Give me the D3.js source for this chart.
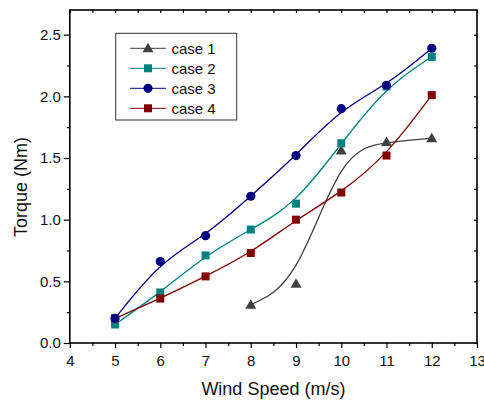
<!DOCTYPE html>
<html>
<head>
<meta charset="utf-8">
<script src="https://cdn.jsdelivr.net/npm/d3@7"></script>
<style>
    body { margin: 0; background: #fff; }
    svg { display: block; font-family: "Liberation Sans", Arial, sans-serif; }
    .axis path, .axis line { stroke: #000; }
    .axis text { fill: #111; font-size: 15px; font-family: "Liberation Sans", Arial, sans-serif; }
</style>
</head>
<body>
<svg id="chart" width="484" height="400"></svg>
<script>
// wind speed (m/s)
const speeds = [5, 6, 7, 8, 9, 10, 11, 12];
const case1Speeds = [8, 9, 10, 11, 12];

// torque (Nm)
const case1 = [0.31, 0.48, 1.56, 1.63, 1.66];
const case2 = [0.15, 0.41, 0.71, 0.92, 1.13, 1.62, 2.08, 2.32];
const case3 = [0.20, 0.66, 0.87, 1.19, 1.52, 1.90, 2.09, 2.39];
const case4 = [0.20, 0.36, 0.54, 0.73, 1.00, 1.22, 1.52, 2.01];

const xTicks = [4, 5, 6, 7, 8, 9, 10, 11, 12, 13];
const yTicks = [0.0, 0.5, 1.0, 1.5, 2.0, 2.5];

const series = [
    { name: "case 1", x: case1Speeds, y: case1, color: "#404040", marker: "triangle" },
    { name: "case 2", x: speeds, y: case2, color: "#008080", marker: "square" },
    { name: "case 3", x: speeds, y: case3, color: "#000080", marker: "circle" },
    { name: "case 4", x: speeds, y: case4, color: "#800000", marker: "square" }
];

const m = { left: 69.8, right: 477, top: 10, bottom: 343 };

const svg = d3.select("#chart");

const x = d3.scaleLinear().domain([4, 13]).range([m.left, m.right]);
const y = d3.scaleLinear().domain([0, 2.7]).range([m.bottom, m.top]);

const xMinor = d3.range(4.5, 13, 1);
const yMinor = d3.range(0.25, 2.7, 0.5);

// minor ticks
svg.append("g").attr("class", "axis").attr("transform", `translate(0,${m.bottom})`)
    .call(d3.axisBottom(x).tickValues(xMinor).tickSize(3).tickFormat(""))
    .call(g => g.select(".domain").remove());
svg.append("g").attr("class", "axis").attr("transform", `translate(${m.left},0)`)
    .call(d3.axisLeft(y).tickValues(yMinor).tickSize(3).tickFormat(""))
    .call(g => g.select(".domain").remove());

// top / right inward ticks
svg.append("g").attr("class", "axis").attr("transform", `translate(0,${m.top})`)
    .call(d3.axisTop(x).tickValues(xTicks.concat(xMinor)).tickSize(-3).tickFormat(""))
    .call(g => g.select(".domain").remove())
    .selectAll("line").attr("stroke", "#888");
svg.append("g").attr("class", "axis").attr("transform", `translate(${m.right},0)`)
    .call(d3.axisRight(y).tickValues(yTicks.concat(yMinor)).tickSize(-3).tickFormat(""))
    .call(g => g.select(".domain").remove())
    .selectAll("line").attr("stroke", "#555");

// major axes
svg.append("g").attr("class", "axis").attr("transform", `translate(0,${m.bottom})`)
    .call(d3.axisBottom(x).tickValues(xTicks).tickSize(5).tickPadding(7).tickSizeOuter(0).tickFormat(d3.format("d")))
    .call(g => g.select(".domain").remove());
svg.append("g").attr("class", "axis").attr("transform", `translate(${m.left},0)`)
    .call(d3.axisLeft(y).tickValues(yTicks).tickSize(6).tickPadding(3).tickSizeOuter(0).tickFormat(d3.format(".1f")))
    .call(g => g.select(".domain").remove());

svg.selectAll(".axis line").attr("stroke-width", 1.2);

// frame
svg.append("rect")
    .attr("x", m.left).attr("y", m.top)
    .attr("width", m.right - m.left).attr("height", m.bottom - m.top)
    .attr("fill", "none").attr("stroke", "#000").attr("stroke-width", 1.6);

// axis titles
svg.append("text")
    .attr("x", (m.left + m.right) / 2).attr("y", 395)
    .attr("text-anchor", "middle").attr("font-size", "18px").attr("fill", "#111")
    .text("Wind Speed (m/s)");
svg.append("text")
    .attr("transform", "translate(27,187) rotate(-90)")
    .attr("text-anchor", "middle").attr("font-size", "18px").attr("fill", "#111")
    .text("Torque (Nm)");

function drawMarker(g, type, cx, cy, color) {
    if (type === "circle") {
        g.append("circle").attr("cx", cx).attr("cy", cy).attr("r", 4.6).attr("fill", color);
    } else if (type === "square") {
        g.append("rect").attr("x", cx - 4).attr("y", cy - 4).attr("width", 8).attr("height", 8).attr("fill", color);
    } else {
        g.append("path").attr("d", `M${cx},${cy - 5.5}L${cx + 5.5},${cy + 4}L${cx - 5.5},${cy + 4}Z`).attr("fill", color);
    }
}

const line = d3.line().x(d => x(d[0])).y(d => y(d[1])).curve(d3.curveBasis);

// lines
series.forEach(s => {
    const pts = s.x.map((v, i) => [v, s.y[i]]);
    svg.append("path").datum(pts).attr("d", line)
        .attr("fill", "none").attr("stroke", s.color).attr("stroke-width", 1.3);
});

// markers (case 3 on top)
[0, 1, 3, 2].forEach(k => {
    const s = series[k];
    const g = svg.append("g");
    s.x.forEach((v, i) => drawMarker(g, s.marker, x(v), y(s.y[i]), s.color));
});

// legend
const legend = svg.append("g");
legend.append("rect")
    .attr("x", 115.7).attr("y", 33.3).attr("width", 121).attr("height", 86.7)
    .attr("fill", "#fff").attr("stroke", "#333").attr("stroke-width", 1);
series.forEach((s, i) => {
    const ly = 48.3 + i * 20;
    legend.append("line").attr("x1", 130).attr("x2", 166).attr("y1", ly).attr("y2", ly)
        .attr("stroke", s.color).attr("stroke-width", 1.3).attr("opacity", 0.8);
    drawMarker(legend, s.marker, 148, ly, s.color);
    legend.append("text").attr("x", 171.5).attr("y", ly + 5.3)
        .attr("font-size", "15px").attr("fill", "#111").text(s.name);
});
</script>
</body>
</html>
